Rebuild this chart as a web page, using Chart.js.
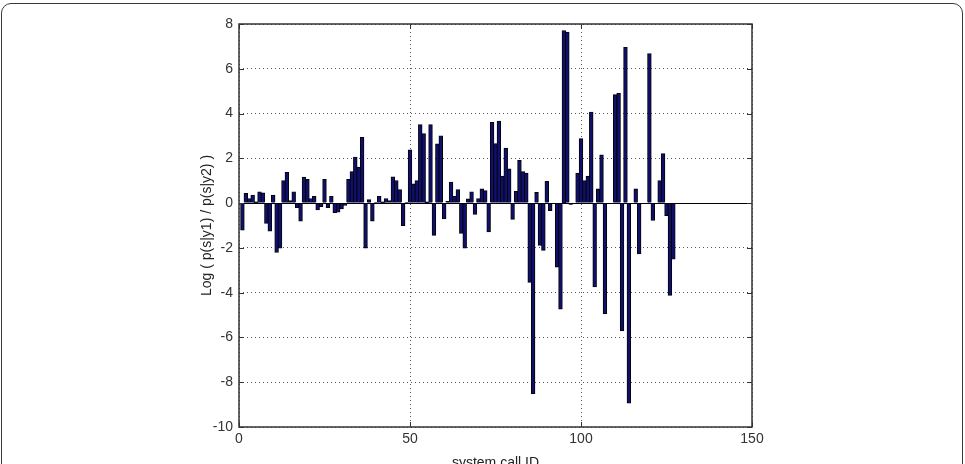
<!DOCTYPE html>
<html>
<head>
<meta charset="utf-8">
<script src="https://cdn.jsdelivr.net/npm/chart.js@4.4.1/dist/chart.umd.min.js"></script>
<style>
html,body{margin:0;padding:0;background:#fff;overflow:hidden;width:965px;height:464px}
.frame{position:absolute;left:1px;top:3px;width:960px;height:540px;border:1.5px solid #3a3a3a;border-radius:10px}
canvas{position:absolute;left:0;top:0}
</style>
</head>
<body>
<div class="frame"></div>
<canvas id="chart" width="965" height="480"></canvas>
<script>
// system call IDs and log-ratio per call
const callIds=[1,2,3,4,5,6,7,8,9,10,11,12,13,14,15,16,17,18,19,20,
21,22,23,24,25,26,27,28,29,30,31,32,33,34,35,36,37,38,39,40,
41,42,43,44,45,46,47,48,49,50,51,52,53,54,55,56,57,58,59,60,
61,62,63,64,65,66,67,68,69,70,71,72,73,74,75,76,77,78,79,80,
81,82,83,84,85,86,87,88,89,90,91,92,93,94,95,96,97,98,99,100,
101,102,103,104,105,106,107,108,109,110,111,112,113,114,115,116,117,118,119,120,
121,122,123,124,125,126,127]
const logRatio=[-1.2,0.43,0.2,0.35,0.05,0.5,0.45,-0.9,-1.25,0.35,
-2.2,-2.0,1.0,1.37,0.1,0.5,-0.2,-0.8,1.15,1.05,
0.2,0.3,-0.3,-0.15,1.05,-0.2,0.3,-0.42,-0.4,-0.25,
-0.1,1.05,1.4,2.05,1.6,2.93,-2.0,0.15,-0.8,0.02,
0.3,0.05,0.2,0.1,1.17,1.0,0.6,-1.0,0.02,2.37,
0.85,1.0,3.5,3.1,0.05,3.5,-1.43,2.64,3.0,-0.7,
0.07,0.93,0.3,0.6,-1.35,-2.0,0.18,0.5,-0.5,0.2,
0.63,0.55,-1.28,3.6,2.65,3.66,1.2,2.45,1.52,-0.72,
0.52,1.9,1.4,1.33,-3.53,-8.5,0.47,-1.88,-2.1,0.97,
-0.33,0,-2.85,-4.73,7.7,7.63,-0.05,0,1.33,2.87,
1.0,1.2,4.06,-3.74,0.63,2.15,-4.93,0,0,4.84,
4.9,-5.7,6.95,-8.93,0,0.63,-2.26,0,0,6.67,
-0.77,0,1.0,2.2,-0.55,-4.12,-2.5]
const xTicks=[0,50,100,150]
const yTicks=[-10,-8,-6,-4,-2,0,2,4,6,8]

const tickFont={family:"'Liberation Sans Narrow','Arial Narrow','Liberation Sans',Arial,sans-serif",size:14}
const titleFont={family:"'Liberation Sans',Arial,sans-serif",size:14}

// matlab style box, inward ticks and the zero baseline
const matlabBox={
    id:'matlabBox',
    afterDatasetsDraw(chart){
        const {ctx,chartArea:a,scales:{x,y}}=chart
        ctx.save()
        ctx.strokeStyle='#000'
        ctx.lineWidth=1
        const y0=Math.round(y.getPixelForValue(0))+0.5
        ctx.beginPath();ctx.moveTo(a.left,y0);ctx.lineTo(a.right,y0);ctx.stroke()
        ctx.strokeStyle='#333'
        ctx.lineWidth=1.5
        ctx.strokeRect(a.left,a.top,a.right-a.left,a.bottom-a.top)
        ctx.lineWidth=1
        ctx.beginPath()
        xTicks.forEach(v=>{
            const px=Math.round(x.getPixelForValue(v))+0.5
            ctx.moveTo(px,a.bottom);ctx.lineTo(px,a.bottom-5)
            ctx.moveTo(px,a.top);ctx.lineTo(px,a.top+5)
        })
        yTicks.forEach(v=>{
            const py=Math.round(y.getPixelForValue(v))+0.5
            ctx.moveTo(a.left,py);ctx.lineTo(a.left+5,py)
            ctx.moveTo(a.right,py);ctx.lineTo(a.right-5,py)
        })
        ctx.stroke()
        ctx.restore()
    }
}

new Chart(document.getElementById('chart'),{
    type:'bar',
    data:{
        datasets:[{
            data:callIds.map((id,i)=>({x:id,y:logRatio[i]})),
            backgroundColor:'#10106a',
            borderColor:'#000',
            borderWidth:0.9,
            inflateAmount:0.5,
            barPercentage:1,
            categoryPercentage:1
        }]
    },
    options:{
        responsive:false,
        animation:false,
        layout:{padding:{left:0,right:213,top:24,bottom:0}},
        plugins:{legend:{display:false},tooltip:{enabled:false}},
        scales:{
            x:{
                type:'linear',min:0,max:150,offset:false,
                afterBuildTicks:s=>{s.ticks=xTicks.map(v=>({value:v}))},
                afterFit:s=>{s.height=53},
                ticks:{font:tickFont,color:'#333',padding:4,maxRotation:0},
                grid:{color:'#555',drawTicks:false,offset:false},
                border:{display:false,dash:[1,3]},
                title:{display:true,text:'system call ID',font:titleFont,color:'#222',padding:{top:0,bottom:8}}
            },
            y:{
                min:-10,max:8,
                afterBuildTicks:s=>{s.ticks=yTicks.map(v=>({value:v}))},
                afterFit:s=>{s.width=239},
                ticks:{font:tickFont,color:'#333',padding:6},
                grid:{color:'#555',drawTicks:false},
                border:{display:false,dash:[1,3]},
                title:{display:true,text:'Log ( p(s|y1) / p(s|y2) )',font:titleFont,color:'#222',padding:{top:199,bottom:0}}
            }
        }
    },
    plugins:[matlabBox]
})
</script>
</body>
</html>
